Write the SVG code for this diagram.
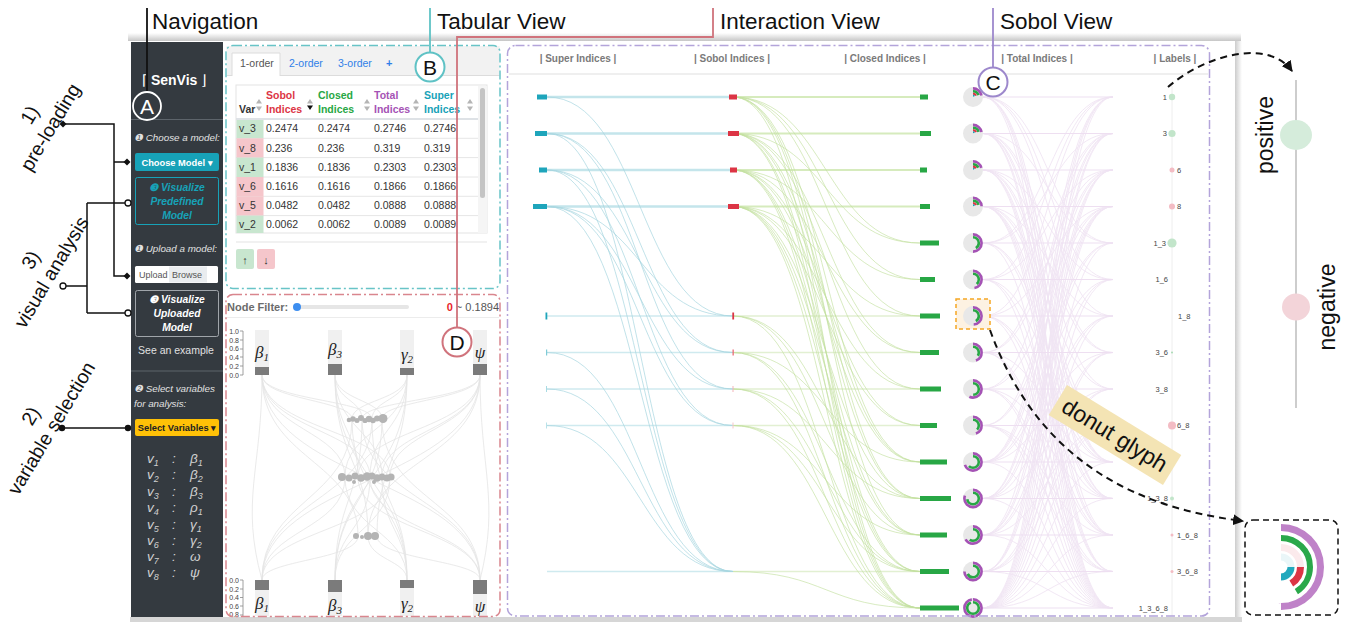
<svg xmlns="http://www.w3.org/2000/svg" xmlns:xlink="http://www.w3.org/1999/xlink" width="1346" height="622" viewBox="0 0 1346 622">
<defs>
<style>
text{font-family:"Liberation Sans",Arial,Helvetica,sans-serif}
.big{font-size:22.5px;fill:#111}
.ann{font-size:19.5px;fill:#111;text-anchor:middle}
.sb{fill:#e2e2e2;font-size:9.8px;font-style:italic}
.btn{font-size:9.3px;font-weight:bold;text-anchor:middle}
.viz{font-size:10.3px;font-weight:bold;font-style:italic;text-anchor:middle}
.var{font-family:"Liberation Serif","Times New Roman",serif;font-style:italic;font-size:13.5px;fill:#d0d0d0}
.th{font-size:10.5px;font-weight:bold}
.td{font-size:10.5px;fill:#333}
.ax{font-size:7px;fill:#444;text-anchor:end}
.gk{font-family:"Liberation Serif","Times New Roman",serif;font-style:italic;font-size:17px;fill:#222;text-anchor:middle}
.hd{font-size:10px;font-weight:bold;fill:#7a7a7a;text-anchor:middle}
.lb{font-size:7.5px;fill:#444}
.cl{font-size:21px;fill:#111;text-anchor:middle}
.box{fill:none;stroke-width:1.5;stroke-dasharray:9 3 2 3}
.conn{fill:none;stroke:#111;stroke-width:1.5}
.dbg{fill:#e8e8e8}
.dp{fill:none;stroke:#a552b5;stroke-width:2.6}
.dg{fill:none;stroke:#28a745;stroke-width:2.6}
.dr{fill:none;stroke:#dc3545;stroke-width:2.2}
.dt{fill:none;stroke:#17a2b8;stroke-width:1.8}
</style>
<marker id="ah" viewBox="0 0 10 10" refX="9" refY="5" markerWidth="11" markerHeight="11" orient="auto" markerUnits="userSpaceOnUse"><path d="M0,0 L10,5 L0,10 z" fill="#111"/></marker>
<linearGradient id="gTop" x1="0" y1="0" x2="0" y2="1"><stop offset="0" stop-color="#fff"/><stop offset="1" stop-color="#c6c6c6"/></linearGradient>
<linearGradient id="gRight" x1="0" y1="0" x2="1" y2="0"><stop offset="0" stop-color="#cccccc"/><stop offset="1" stop-color="#fff"/></linearGradient>
<path id="srt" d="M-3,-1.5 L3,-1.5 L0,-6 Z M-3,1.5 L3,1.5 L0,6 Z" fill="#b5b5b5"/>
<path id="pcA" d="M983,97C1048,97 1048,243 1113,243M983,97C1048,97 1048,279.5 1113,279.5M983,97C1048,97 1048,316 1113,316M983,97C1048,97 1048,462 1113,462M983,97C1048,97 1048,498.5 1113,498.5M983,97C1048,97 1048,535 1113,535M983,97C1048,97 1048,608 1113,608M983,133.5C1048,133.5 1048,243 1113,243M983,133.5C1048,133.5 1048,352.5 1113,352.5M983,133.5C1048,133.5 1048,389 1113,389M983,133.5C1048,133.5 1048,462 1113,462M983,133.5C1048,133.5 1048,498.5 1113,498.5M983,133.5C1048,133.5 1048,571.5 1113,571.5M983,133.5C1048,133.5 1048,608 1113,608M983,170C1048,170 1048,279.5 1113,279.5M983,170C1048,170 1048,352.5 1113,352.5M983,170C1048,170 1048,425.5 1113,425.5M983,170C1048,170 1048,462 1113,462M983,170C1048,170 1048,535 1113,535M983,170C1048,170 1048,571.5 1113,571.5M983,170C1048,170 1048,608 1113,608M983,206.5C1048,206.5 1048,316 1113,316M983,206.5C1048,206.5 1048,389 1113,389M983,206.5C1048,206.5 1048,425.5 1113,425.5M983,206.5C1048,206.5 1048,498.5 1113,498.5M983,206.5C1048,206.5 1048,535 1113,535M983,206.5C1048,206.5 1048,571.5 1113,571.5M983,206.5C1048,206.5 1048,608 1113,608M983,316C1048,316 1048,498.5 1113,498.5M983,316C1048,316 1048,535 1113,535M983,316C1048,316 1048,608 1113,608M983,352.5C1048,352.5 1048,462 1113,462M983,352.5C1048,352.5 1048,571.5 1113,571.5M983,352.5C1048,352.5 1048,608 1113,608M983,389C1048,389 1048,498.5 1113,498.5M983,389C1048,389 1048,571.5 1113,571.5M983,389C1048,389 1048,608 1113,608M983,425.5C1048,425.5 1048,535 1113,535M983,425.5C1048,425.5 1048,571.5 1113,571.5M983,425.5C1048,425.5 1048,608 1113,608M983,571.5C1048,571.5 1048,608 1113,608"/>
<path id="pcB" d="M983,243C1048,243 1048,462 1113,462M983,243C1048,243 1048,498.5 1113,498.5M983,243C1048,243 1048,608 1113,608M983,279.5C1048,279.5 1048,462 1113,462M983,279.5C1048,279.5 1048,535 1113,535M983,279.5C1048,279.5 1048,608 1113,608M983,462C1048,462 1048,608 1113,608M983,498.5C1048,498.5 1048,608 1113,608M983,535C1048,535 1048,608 1113,608"/>
</defs>

<rect width="1346" height="622" fill="#fff"/>

<g id="frame">
<rect x="128" y="33" width="1113" height="8" fill="url(#gTop)"/>
<rect x="130" y="41" width="1105" height="576" fill="#fff"/>
<rect x="1235" y="41" width="7" height="581" fill="url(#gRight)"/>
<rect x="130" y="617" width="1112" height="5" fill="#d6d6d6"/>
</g>

<g id="navigation">
<rect x="131" y="42" width="92" height="575" fill="#343a40"/>
<text x="142" y="85" fill="#fff" font-size="14"><tspan>⌈ </tspan><tspan font-weight="bold">SenVis</tspan><tspan> ⌋</tspan></text>
<line x1="131" y1="119.5" x2="223" y2="119.5" stroke="#5d646b"/>
<text x="134" y="141" class="sb">❶ Choose a model:</text>
<rect x="135" y="153" width="84" height="18" rx="2" fill="#17a2b8"/>
<text x="177" y="165.5" class="btn" fill="#fff">Choose Model ▾</text>
<rect x="135.5" y="177.5" width="83" height="47" rx="2" fill="none" stroke="#17a2b8"/>
<text x="177" y="191" class="viz" fill="#17a2b8">❸ Visualize</text>
<text x="177" y="205" class="viz" fill="#17a2b8">Predefined</text>
<text x="177" y="219" class="viz" fill="#17a2b8">Model</text>
<text x="134" y="252" class="sb">❶ Upload a model:</text>
<rect x="135" y="266" width="83" height="17" rx="1.5" fill="#fff"/>
<rect x="169" y="266.5" width="38" height="16" fill="#e9ecef"/>
<text x="139" y="278" font-size="9" fill="#555">Upload</text>
<text x="172" y="278" font-size="9" fill="#555">Browse</text>
<rect x="135.5" y="290.5" width="83" height="46" rx="2" fill="none" stroke="#a0a5aa"/>
<text x="177" y="303" class="viz" fill="#fff">❸ Visualize</text>
<text x="177" y="317" class="viz" fill="#fff">Uploaded</text>
<text x="177" y="331" class="viz" fill="#fff">Model</text>
<text x="176" y="354" text-anchor="middle" font-size="10.5" fill="#e0e0e0">See an example</text>
<line x1="131" y1="371" x2="223" y2="371" stroke="#5d646b"/>
<text x="134" y="392" class="sb">❷ Select variables</text>
<text x="134" y="407" class="sb">for analysis:</text>
<rect x="135" y="419" width="84" height="17" rx="2" fill="#ffc107"/>
<text x="177" y="431" class="btn" fill="#222">Select Variables ▾</text>
<g class="var">
<text x="147" y="463">v<tspan font-size="9" dy="3">1</tspan></text><text x="172" y="463">:</text><text x="190" y="463">β<tspan font-size="9" dy="3">1</tspan></text>
<text x="147" y="479">v<tspan font-size="9" dy="3">2</tspan></text><text x="172" y="479">:</text><text x="190" y="479">β<tspan font-size="9" dy="3">2</tspan></text>
<text x="147" y="496">v<tspan font-size="9" dy="3">3</tspan></text><text x="172" y="496">:</text><text x="190" y="496">β<tspan font-size="9" dy="3">3</tspan></text>
<text x="147" y="512">v<tspan font-size="9" dy="3">4</tspan></text><text x="172" y="512">:</text><text x="190" y="512">ρ<tspan font-size="9" dy="3">1</tspan></text>
<text x="147" y="529">v<tspan font-size="9" dy="3">5</tspan></text><text x="172" y="529">:</text><text x="190" y="529">γ<tspan font-size="9" dy="3">1</tspan></text>
<text x="147" y="545">v<tspan font-size="9" dy="3">6</tspan></text><text x="172" y="545">:</text><text x="190" y="545">γ<tspan font-size="9" dy="3">2</tspan></text>
<text x="147" y="561">v<tspan font-size="9" dy="3">7</tspan></text><text x="172" y="561">:</text><text x="190" y="561">ω</text>
<text x="147" y="577">v<tspan font-size="9" dy="3">8</tspan></text><text x="172" y="577">:</text><text x="190" y="577">ψ</text>
</g>
</g>

<g id="tabular-view">
<rect x="226.5" y="46" width="273" height="29" fill="#f2f2f2"/>
<line x1="226.5" y1="75.5" x2="499.5" y2="75.5" stroke="#dcdcdc"/>
<path d="M232,76 V53 H280 V76" fill="#fff" stroke="#dcdcdc"/>
<text x="240" y="67" font-size="10.5" fill="#555">1-order</text>
<text x="289" y="67" font-size="10.5" fill="#2f7fe8">2-order</text>
<text x="338" y="67" font-size="10.5" fill="#2f7fe8">3-order</text>
<text x="386" y="67" font-size="11" fill="#2f7fe8" font-weight="bold">+</text>
<rect x="236" y="85" width="251" height="148" fill="#fff" stroke="#e3e3e3"/>
<rect x="478" y="86" width="9" height="147" fill="#f5f5f5"/>
<rect x="480" y="88" width="5" height="110" rx="2.5" fill="#c4c4c4"/>
<line x1="236" y1="119" x2="478" y2="119" stroke="#dee2e6" stroke-width="2"/>
<g stroke="#e6e6e6">
<line x1="236" y1="138.3" x2="478" y2="138.3"/><line x1="236" y1="157.6" x2="478" y2="157.6"/><line x1="236" y1="177" x2="478" y2="177"/><line x1="236" y1="196.3" x2="478" y2="196.3"/><line x1="236" y1="215.6" x2="478" y2="215.6"/>
</g>
<rect x="236.5" y="120" width="27" height="18.3" fill="#c8e6cf"/>
<rect x="236.5" y="138.3" width="27" height="19.3" fill="#f5c6cb"/>
<rect x="236.5" y="157.6" width="27" height="19.4" fill="#c8e6cf"/>
<rect x="236.5" y="177" width="27" height="19.3" fill="#f5c6cb"/>
<rect x="236.5" y="196.3" width="27" height="19.3" fill="#f5c6cb"/>
<rect x="236.5" y="215.6" width="27" height="17.4" fill="#c8e6cf"/>
<text x="239" y="113" class="th" fill="#333">Var</text>
<text x="266" y="99" class="th" fill="#dc3545">Sobol</text><text x="266" y="113" class="th" fill="#dc3545">Indices</text>
<text x="318" y="99" class="th" fill="#28a745">Closed</text><text x="318" y="113" class="th" fill="#28a745">Indices</text>
<text x="374" y="99" class="th" fill="#a553b5">Total</text><text x="374" y="113" class="th" fill="#a553b5">Indices</text>
<text x="424" y="99" class="th" fill="#17a2b8">Super</text><text x="424" y="113" class="th" fill="#17a2b8">Indices</text>
<use href="#srt" x="259" y="105"/>
<path d="M307,103.5 L313,103.5 L310,99 Z" fill="#b5b5b5"/><path d="M307,105.5 L313,105.5 L310,110 Z" fill="#111"/>
<use href="#srt" x="367" y="105"/>
<use href="#srt" x="416" y="105"/>
<use href="#srt" x="470" y="105"/>
<g class="td">
<text x="239" y="132">v_3</text><text x="266" y="132">0.2474</text><text x="318" y="132">0.2474</text><text x="374" y="132">0.2746</text><text x="424" y="132">0.2746</text>
<text x="239" y="151.5">v_8</text><text x="266" y="151.5">0.236</text><text x="318" y="151.5">0.236</text><text x="374" y="151.5">0.319</text><text x="424" y="151.5">0.319</text>
<text x="239" y="170.5">v_1</text><text x="266" y="170.5">0.1836</text><text x="318" y="170.5">0.1836</text><text x="374" y="170.5">0.2303</text><text x="424" y="170.5">0.2303</text>
<text x="239" y="190">v_6</text><text x="266" y="190">0.1616</text><text x="318" y="190">0.1616</text><text x="374" y="190">0.1866</text><text x="424" y="190">0.1866</text>
<text x="239" y="209">v_5</text><text x="266" y="209">0.0482</text><text x="318" y="209">0.0482</text><text x="374" y="209">0.0888</text><text x="424" y="209">0.0888</text>
<text x="239" y="228">v_2</text><text x="266" y="228">0.0062</text><text x="318" y="228">0.0062</text><text x="374" y="228">0.0089</text><text x="424" y="228">0.0089</text>
</g>
<line x1="236" y1="242" x2="487" y2="242" stroke="#e3e3e3"/>
<rect x="236" y="249" width="18" height="20" rx="2" fill="#c8e6cf"/>
<rect x="257" y="249" width="18" height="20" rx="2" fill="#f5c6cb"/>
<text x="245" y="263.5" text-anchor="middle" font-size="11" fill="#333">↑</text>
<text x="266" y="263.5" text-anchor="middle" font-size="11" fill="#333">↓</text>
<rect x="226" y="45.5" width="274" height="243" rx="7" class="box" stroke="#68c4c7"/>
</g>

<g id="interaction-view">
<text x="227" y="311" font-size="11" font-weight="bold" fill="#6b6b6b">Node Filter:</text>
<rect x="294" y="305" width="115" height="4" rx="2" fill="#e6e6e6"/>
<circle cx="297" cy="307" r="4" fill="#3d8ef0"/>
<text x="499" y="311" text-anchor="end" font-size="11" fill="#555"><tspan fill="#e8262b" font-weight="bold">0</tspan> ~ 0.1894</text>
<line x1="227" y1="317.5" x2="499" y2="317.5" stroke="#ececec"/>
<g id="ilinks" fill="none" stroke="#dadada" stroke-width="0.8" opacity="0.7">
<path d="M262,375C262,400 352,400 352,419M262,375C262,400 372,400 372,419M335,375C335,400 362,400 362,419M335,375C335,400 382,400 382,419M407,375C407,400 352,400 352,419M407,375C407,400 372,400 372,419M480,375C480,400 362,400 362,419M480,375C480,400 382,400 382,419"/>
<path d="M352,419C352,500 262,500 262,580M362,419C362,500 335,500 335,580M372,419C372,500 407,500 407,580M382,419C382,500 480,500 480,580M352,419C352,500 407,500 407,580M372,419C372,500 262,500 262,580M362,419C362,500 480,500 480,580M382,419C382,500 335,500 335,580"/>
<path d="M262,375C262,430 345,430 345,477M262,375C262,430 370,430 370,477M262,375C262,430 390,430 390,477M335,375C335,430 358,430 358,477M335,375C335,430 382,430 382,477M407,375C407,430 345,430 345,477M407,375C407,430 370,430 370,477M480,375C480,430 358,430 358,477M480,375C480,430 390,430 390,477M480,375C480,430 382,430 382,477"/>
<path d="M345,477C345,530 262,530 262,580M358,477C358,530 480,530 480,580M370,477C370,530 335,530 335,580M382,477C382,530 407,530 407,580M390,477C390,530 262,530 262,580M345,477C345,530 407,530 407,580M370,477C370,530 480,530 480,580M390,477C390,530 335,530 335,580"/>
<path d="M262,375C262,460 358,460 358,536M335,375C335,460 368,460 368,536M407,375C407,460 377,460 377,536M480,375C480,460 368,460 368,536M358,536C358,560 262,560 262,580M368,536C368,560 407,560 407,580M377,536C377,560 480,560 480,580"/>
<path d="M262,375C262,480 480,480 480,580M480,375C480,480 262,480 262,580M335,375C335,480 407,480 407,580M407,375C407,480 335,480 335,580M262,375C262,470 240,500 262,580M480,375C480,470 500,500 480,580"/>
</g>
<g id="axes">
<line x1="243" y1="331" x2="243" y2="375" stroke="#888" stroke-width="0.8"/>
<g stroke="#888" stroke-width="0.8"><line x1="240" y1="331" x2="243" y2="331"/><line x1="240" y1="340" x2="243" y2="340"/><line x1="240" y1="349" x2="243" y2="349"/><line x1="240" y1="357" x2="243" y2="357"/><line x1="240" y1="366" x2="243" y2="366"/><line x1="240" y1="375" x2="243" y2="375"/></g>
<text x="239" y="333.5" class="ax">1.0</text><text x="239" y="342.5" class="ax">0.8</text><text x="239" y="351" class="ax">0.6</text><text x="239" y="359.5" class="ax">0.4</text><text x="239" y="368.5" class="ax">0.2</text><text x="239" y="377.5" class="ax">0.0</text>
<line x1="243" y1="580" x2="243" y2="616" stroke="#888" stroke-width="0.8"/>
<g stroke="#888" stroke-width="0.8"><line x1="240" y1="580" x2="243" y2="580"/><line x1="240" y1="589" x2="243" y2="589"/><line x1="240" y1="597.5" x2="243" y2="597.5"/><line x1="240" y1="606" x2="243" y2="606"/><line x1="240" y1="615" x2="243" y2="615"/></g>
<text x="239" y="582.5" class="ax">0.0</text><text x="239" y="591.5" class="ax">0.2</text><text x="239" y="600" class="ax">0.4</text><text x="239" y="608.5" class="ax">0.6</text><text x="239" y="617" class="ax">0.8</text>
</g>
<g id="ibars">
<rect x="255" y="330" width="14" height="45" fill="#f0f0f0"/><rect x="255" y="367" width="14" height="8" fill="#7b7b7b"/>
<rect x="328" y="330" width="14" height="45" fill="#f0f0f0"/><rect x="328" y="364" width="14" height="11" fill="#7b7b7b"/>
<rect x="400" y="330" width="14" height="45" fill="#f0f0f0"/><rect x="400" y="368" width="14" height="7" fill="#7b7b7b"/>
<rect x="473" y="330" width="14" height="45" fill="#f0f0f0"/><rect x="473" y="364" width="14" height="11" fill="#7b7b7b"/>
<rect x="255" y="580" width="14" height="36" fill="#f0f0f0"/><rect x="255" y="580" width="14" height="10" fill="#7b7b7b"/>
<rect x="328" y="580" width="14" height="36" fill="#f0f0f0"/><rect x="328" y="580" width="14" height="12" fill="#7b7b7b"/>
<rect x="400" y="580" width="14" height="36" fill="#f0f0f0"/><rect x="400" y="580" width="14" height="8" fill="#7b7b7b"/>
<rect x="473" y="580" width="14" height="36" fill="#f0f0f0"/><rect x="473" y="580" width="14" height="14" fill="#7b7b7b"/>
<text x="262" y="358" class="gk">β<tspan font-size="11" dy="3">1</tspan></text>
<text x="335" y="355" class="gk">β<tspan font-size="11" dy="3">3</tspan></text>
<text x="407" y="360" class="gk">γ<tspan font-size="11" dy="3">2</tspan></text>
<text x="480" y="358" class="gk">ψ</text>
<text x="262" y="609" class="gk">β<tspan font-size="11" dy="3">1</tspan></text>
<text x="335" y="611" class="gk">β<tspan font-size="11" dy="3">3</tspan></text>
<text x="407" y="609" class="gk">γ<tspan font-size="11" dy="3">2</tspan></text>
<text x="480" y="612" class="gk">ψ</text>
</g>
<g id="inodes" fill="#b4b4b4">
<circle cx="349" cy="420" r="2.3"/><circle cx="353" cy="419" r="2.8"/><circle cx="357" cy="420.5" r="2.5"/><circle cx="361" cy="418" r="3"/><circle cx="365" cy="420.5" r="2.6"/><circle cx="369" cy="419" r="3.2"/><circle cx="373" cy="420.5" r="2.8"/><circle cx="377" cy="418.5" r="3"/><circle cx="383" cy="418.5" r="4.5"/>
<circle cx="342" cy="477" r="4"/><circle cx="349" cy="478" r="3.5"/><circle cx="355" cy="476" r="3.5"/><circle cx="361" cy="478" r="3.8"/><circle cx="367" cy="476.5" r="4.2"/><circle cx="372" cy="476" r="3.5"/><circle cx="377" cy="478" r="3.8"/><circle cx="382" cy="477" r="3.5"/><circle cx="387" cy="478" r="3.6"/><circle cx="391" cy="477" r="3.6"/><circle cx="354" cy="482" r="2"/><circle cx="374" cy="482" r="2"/>
<circle cx="356" cy="536" r="3"/><circle cx="362" cy="537" r="2"/><circle cx="368" cy="536" r="4"/><circle cx="375" cy="536" r="4"/>
</g>
<rect x="226" y="294.5" width="274" height="322" rx="7" class="box" stroke="#d9868e"/>
</g>

<g id="sobol-view">
<line x1="509" y1="74" x2="1208" y2="74" stroke="#efefef" stroke-width="2"/>
<text x="578" y="62" class="hd">| Super Indices |</text>
<text x="732" y="62" class="hd">| Sobol Indices |</text>
<text x="885" y="62" class="hd">| Closed Indices |</text>
<text x="1037" y="62" class="hd">| Total Indices |</text>
<text x="1175" y="62" class="hd">| Labels |</text>

<g id="connectors">
<g fill="none" stroke="#c4e5eb" stroke-width="2.5">
<path d="M547,97H729M547,133.5H728M547,170H730M547,206.5H728"/>
</g>
<g fill="none" stroke="#cfeaef" stroke-width="1.5">
<path d="M547,316H733M547,352.5H733M547,389H733M547,425.5H733M547,571.5H733"/>
</g>
<path fill="none" stroke="#a6d6df" stroke-width="1" opacity="0.7" d="M547,97C640,97 640,316 733,316M547,133.5C640,133.5 640,352.5 733,352.5M547,133.5C640,133.5 640,389 733,389M547,133.5C640,133.5 640,571.5 733,571.5M547,170C640,170 640,352.5 733,352.5M547,170C640,170 640,425.5 733,425.5M547,170C640,170 640,571.5 733,571.5M547,206.5C640,206.5 640,316 733,316M547,206.5C640,206.5 640,389 733,389M547,206.5C640,206.5 640,425.5 733,425.5M547,206.5C640,206.5 640,571.5 733,571.5M547,352.5C640,352.5 640,571.5 733,571.5M547,389C640,389 640,571.5 733,571.5M547,425.5C640,425.5 640,571.5 733,571.5"/>
<g fill="none" stroke="#d6ebbd" stroke-width="2">
<path d="M737,97H920M739,133.5H920M737,170H920M739,206.5H920"/>
</g>
<g fill="none" stroke="#e2f0d2" stroke-width="1.3">
<path d="M733,316H920M733,352.5H920M733,389H920M733,425.5H920M733,571.5H920"/>
</g>
<path fill="none" stroke="#c3e0a0" stroke-width="1" opacity="0.65" d="M733,97C826,97 826,243 920,243M733,97C826,97 826,279.5 920,279.5M733,97C826,97 826,316 920,316M733,97C826,97 826,462 920,462M733,97C826,97 826,498.5 920,498.5M733,97C826,97 826,535 920,535M733,97C826,97 826,608 920,608M733,133.5C826,133.5 826,243 920,243M733,133.5C826,133.5 826,352.5 920,352.5M733,133.5C826,133.5 826,389 920,389M733,133.5C826,133.5 826,462 920,462M733,133.5C826,133.5 826,498.5 920,498.5M733,133.5C826,133.5 826,571.5 920,571.5M733,133.5C826,133.5 826,608 920,608M733,170C826,170 826,279.5 920,279.5M733,170C826,170 826,352.5 920,352.5M733,170C826,170 826,425.5 920,425.5M733,170C826,170 826,462 920,462M733,170C826,170 826,535 920,535M733,170C826,170 826,571.5 920,571.5M733,170C826,170 826,608 920,608M733,206.5C826,206.5 826,316 920,316M733,206.5C826,206.5 826,389 920,389M733,206.5C826,206.5 826,425.5 920,425.5M733,206.5C826,206.5 826,498.5 920,498.5M733,206.5C826,206.5 826,535 920,535M733,206.5C826,206.5 826,571.5 920,571.5M733,206.5C826,206.5 826,608 920,608M733,316C826,316 826,498.5 920,498.5M733,316C826,316 826,535 920,535M733,316C826,316 826,608 920,608M733,352.5C826,352.5 826,462 920,462M733,352.5C826,352.5 826,571.5 920,571.5M733,352.5C826,352.5 826,608 920,608M733,389C826,389 826,498.5 920,498.5M733,389C826,389 826,571.5 920,571.5M733,389C826,389 826,608 920,608M733,425.5C826,425.5 826,535 920,535M733,425.5C826,425.5 826,571.5 920,571.5M733,425.5C826,425.5 826,608 920,608M733,571.5C826,571.5 826,608 920,608"/>
<g fill="none" stroke="#e0c6e6" stroke-width="0.9" opacity="0.45">
<use href="#pcA"/><use href="#pcB"/>
<use href="#pcA" transform="translate(2096,0) scale(-1,1)"/><use href="#pcB" transform="translate(2096,0) scale(-1,1)"/>
</g>
<path fill="none" stroke="#eedff1" stroke-width="1.2" d="M983,97H1113M983,133.5H1113M983,170H1113M983,206.5H1113M983,243H1113M983,279.5H1113M983,316H1113M983,352.5H1113M983,389H1113M983,425.5H1113M983,462H1113M983,498.5H1113M983,535H1113M983,571.5H1113M983,608H1113"/>
</g>

<g id="super-bars" fill="#1ea5bb">
<rect x="537" y="94.5" width="10" height="5"/><rect x="535" y="131" width="12" height="5"/><rect x="539" y="167.5" width="8" height="5"/><rect x="533" y="204" width="14" height="5"/>
<rect x="545.5" y="312.5" width="1.8" height="7"/>
<rect x="546" y="349.5" width="1.2" height="6" fill="#7fcbd7"/><rect x="546" y="386" width="1" height="6" fill="#a9dbe3"/><rect x="546" y="422.5" width="1" height="6" fill="#b9e2e9"/>
</g>
<g id="sobol-bars" fill="#dc3545">
<rect x="729" y="94.5" width="8" height="5"/><rect x="728" y="131" width="11" height="5"/><rect x="730" y="167.5" width="7" height="5"/><rect x="728" y="204" width="11" height="5"/>
<rect x="732.3" y="312.5" width="1.8" height="7"/>
<rect x="732.5" y="349.5" width="1.3" height="6" fill="#ea6b77"/><rect x="732.5" y="386" width="1" height="6" fill="#f3b3ba"/><rect x="732.5" y="422.5" width="1" height="6" fill="#f6c5ca"/>
</g>
<g id="closed-bars" fill="#28a745">
<rect x="920" y="94.5" width="8" height="5"/><rect x="920" y="131" width="11" height="5"/><rect x="920" y="167.5" width="7" height="5"/><rect x="920" y="204" width="10" height="5"/>
<rect x="920" y="240.5" width="19" height="5"/><rect x="920" y="277" width="15" height="5"/><rect x="920" y="313.5" width="20" height="5"/><rect x="920" y="350" width="19" height="5"/>
<rect x="920" y="386.5" width="21" height="5"/><rect x="920" y="423" width="17" height="5"/><rect x="920" y="459.5" width="27" height="5"/><rect x="920" y="496" width="31" height="5"/>
<rect x="920" y="532.5" width="27" height="5"/><rect x="920" y="569" width="29" height="5"/><rect x="920" y="605.5" width="39" height="5"/>
</g>

<rect x="956" y="299" width="34" height="30" fill="#fdf2e2" stroke="#f5a623" stroke-width="1.5" stroke-dasharray="4 3"/>

<g id="donuts">
<g transform="translate(973,97)"><circle r="10" class="dbg"/><circle r="8.6" class="dp" pathLength="360" stroke-dasharray="80 360" transform="rotate(-90)"/><circle r="5.8" class="dg" pathLength="360" stroke-dasharray="70 360" transform="rotate(-90)"/><circle r="3.3" class="dr" pathLength="360" stroke-dasharray="65 360" transform="rotate(-90)"/><circle r="1.3" class="dt" pathLength="360" stroke-dasharray="60 360" transform="rotate(-90)"/></g>
<g transform="translate(973,133.5)"><circle r="10" class="dbg"/><circle r="8.6" class="dp" pathLength="360" stroke-dasharray="80 360" transform="rotate(-90)"/><circle r="5.8" class="dg" pathLength="360" stroke-dasharray="72 360" transform="rotate(-90)"/><circle r="3.3" class="dr" pathLength="360" stroke-dasharray="65 360" transform="rotate(-90)"/><circle r="1.3" class="dt" pathLength="360" stroke-dasharray="60 360" transform="rotate(-90)"/></g>
<g transform="translate(973,170)"><circle r="10" class="dbg"/><circle r="8.6" class="dp" pathLength="360" stroke-dasharray="75 360" transform="rotate(-90)"/><circle r="5.8" class="dg" pathLength="360" stroke-dasharray="65 360" transform="rotate(-90)"/><circle r="3.3" class="dr" pathLength="360" stroke-dasharray="60 360" transform="rotate(-90)"/><circle r="1.3" class="dt" pathLength="360" stroke-dasharray="55 360" transform="rotate(-90)"/></g>
<g transform="translate(973,206.5)"><circle r="10" class="dbg"/><circle r="8.6" class="dp" pathLength="360" stroke-dasharray="88 360" transform="rotate(-90)"/><circle r="5.8" class="dg" pathLength="360" stroke-dasharray="72 360" transform="rotate(-90)"/><circle r="3.3" class="dr" pathLength="360" stroke-dasharray="65 360" transform="rotate(-90)"/><circle r="1.3" class="dt" pathLength="360" stroke-dasharray="60 360" transform="rotate(-90)"/></g>
<g transform="translate(973,243)"><circle r="10" class="dbg"/><circle r="8.6" class="dp" pathLength="360" stroke-dasharray="180 360" transform="rotate(-90)"/><circle r="5.8" class="dg" pathLength="360" stroke-dasharray="150 360" transform="rotate(-90)"/></g>
<g transform="translate(973,279.5)"><circle r="10" class="dbg"/><circle r="8.6" class="dp" pathLength="360" stroke-dasharray="170 360" transform="rotate(-90)"/><circle r="5.8" class="dg" pathLength="360" stroke-dasharray="140 360" transform="rotate(-90)"/></g>
<g transform="translate(973,316)"><circle r="10" class="dbg"/><circle r="8.6" class="dp" pathLength="360" stroke-dasharray="175 360" transform="rotate(-90)"/><circle r="5.8" class="dg" pathLength="360" stroke-dasharray="150 360" transform="rotate(-90)"/></g>
<g transform="translate(973,352.5)"><circle r="10" class="dbg"/><circle r="8.6" class="dp" pathLength="360" stroke-dasharray="160 360" transform="rotate(-90)"/><circle r="5.8" class="dg" pathLength="360" stroke-dasharray="125 360" transform="rotate(-90)"/></g>
<g transform="translate(973,389)"><circle r="10" class="dbg"/><circle r="8.6" class="dp" pathLength="360" stroke-dasharray="205 360" transform="rotate(-90)"/><circle r="5.8" class="dg" pathLength="360" stroke-dasharray="178 360" transform="rotate(-90)"/></g>
<g transform="translate(973,425.5)"><circle r="10" class="dbg"/><circle r="8.6" class="dp" pathLength="360" stroke-dasharray="160 360" transform="rotate(-90)"/><circle r="5.8" class="dg" pathLength="360" stroke-dasharray="135 360" transform="rotate(-90)"/></g>
<g transform="translate(973,462)"><circle r="10" class="dbg"/><circle r="8.6" class="dp" pathLength="360" stroke-dasharray="250 360" transform="rotate(-90)"/><circle r="5.8" class="dg" pathLength="360" stroke-dasharray="225 360" transform="rotate(-90)"/></g>
<g transform="translate(973,498.5)"><circle r="10" class="dbg"/><circle r="8.6" class="dp" pathLength="360" stroke-dasharray="290 360" transform="rotate(-90)"/><circle r="5.8" class="dg" pathLength="360" stroke-dasharray="262 360" transform="rotate(-90)"/></g>
<g transform="translate(973,535)"><circle r="10" class="dbg"/><circle r="8.6" class="dp" pathLength="360" stroke-dasharray="240 360" transform="rotate(-90)"/><circle r="5.8" class="dg" pathLength="360" stroke-dasharray="215 360" transform="rotate(-90)"/></g>
<g transform="translate(973,571.5)"><circle r="10" class="dbg"/><circle r="8.6" class="dp" pathLength="360" stroke-dasharray="270 360" transform="rotate(-90)"/><circle r="5.8" class="dg" pathLength="360" stroke-dasharray="245 360" transform="rotate(-90)"/></g>
<g transform="translate(973,608)"><circle r="10" class="dbg"/><circle r="8.6" class="dp" pathLength="360" stroke-dasharray="352 360" transform="rotate(-90)"/><circle r="5.8" class="dg" pathLength="360" stroke-dasharray="338 360" transform="rotate(-90)"/></g>
</g>

<g id="labels">
<line x1="1172" y1="86" x2="1172" y2="616" stroke="#eeeeee"/>
<circle cx="1172" cy="97" r="3.2" fill="#c2e5ca"/>
<circle cx="1172" cy="133.5" r="3.6" fill="#c2e5ca"/>
<circle cx="1172" cy="170" r="2.5" fill="#f3bcc4"/>
<circle cx="1172" cy="206.5" r="3" fill="#f3bcc4"/>
<circle cx="1172" cy="243" r="4.6" fill="#c2e5ca"/>
<circle cx="1172" cy="352.5" r="1" fill="#a8dab4"/>
<circle cx="1172" cy="425.5" r="4" fill="#f3bcc4"/>
<circle cx="1172" cy="462" r="2" fill="#a8dab4"/>
<circle cx="1172" cy="498.5" r="2" fill="#c2e5ca"/>
<circle cx="1172" cy="535" r="1.5" fill="#f3bcc4"/>
<circle cx="1172" cy="571.5" r="1.5" fill="#f3bcc4"/>
<g class="lb">
<text x="1167" y="99.5" text-anchor="end">1</text>
<text x="1167" y="136" text-anchor="end">3</text>
<text x="1177" y="172.5">6</text>
<text x="1177" y="209">8</text>
<text x="1166" y="245.5" text-anchor="end">1_3</text>
<text x="1168" y="282" text-anchor="end">1_6</text>
<text x="1178" y="318.5">1_8</text>
<text x="1168" y="355" text-anchor="end">3_6</text>
<text x="1168" y="391.5" text-anchor="end">3_8</text>
<text x="1177" y="428">6_8</text>
<text x="1168" y="501" text-anchor="end">1_3_8</text>
<text x="1177" y="537.5">1_6_8</text>
<text x="1177" y="574">3_6_8</text>
<text x="1168" y="610.5" text-anchor="end">1_3_6_8</text>
</g>
</g>
<rect x="507.5" y="45.5" width="702" height="570.5" rx="8" class="box" stroke="#b3a4da"/>
</g>

<g id="legend-sign">
<line x1="1296" y1="80" x2="1296" y2="408" stroke="#bdbdbd" stroke-width="1.5"/>
<ellipse cx="1296" cy="135" rx="16" ry="15" fill="#d5ecdb"/>
<ellipse cx="1296" cy="307" rx="14" ry="13.5" fill="#f3d4d9"/>
<text transform="translate(1273,135) rotate(-90)" text-anchor="middle" font-size="23" fill="#111">positive</text>
<text transform="translate(1335,307) rotate(-90)" text-anchor="middle" font-size="23" fill="#111">negative</text>
</g>
<g id="legend-donut">
<rect x="1245" y="520" width="93" height="95" rx="8" fill="none" stroke="#111" stroke-width="1.5" stroke-dasharray="6 4"/>
<g transform="translate(1281,567)">
<circle r="39.5" fill="none" stroke="#bf82c8" stroke-width="7" pathLength="360" stroke-dasharray="180 360" transform="rotate(-90)"/>
<circle r="29" fill="none" stroke="#2aa84a" stroke-width="6" pathLength="360" stroke-dasharray="148 360" transform="rotate(-90)"/>
<circle r="19.5" fill="none" stroke="#fbeaec" stroke-width="7" pathLength="360" stroke-dasharray="90 360" transform="rotate(-90)"/>
<circle r="19.5" fill="none" stroke="#dc3545" stroke-width="7" pathLength="360" stroke-dasharray="0 90 58 360" transform="rotate(-90)"/>
<circle r="10" fill="none" stroke="#eaf6f8" stroke-width="7" pathLength="360" stroke-dasharray="90 360" transform="rotate(-90)"/>
<circle r="10" fill="none" stroke="#21a8bd" stroke-width="7" pathLength="360" stroke-dasharray="0 90 90 360" transform="rotate(-90)"/>
</g>
</g>

<g id="annotation-connectors">
<path class="conn" d="M63,124H114V276H126M114,162H126"/>
<path class="conn" d="M66,286H87M87,203V313M87,203H125M87,313H125"/>
<path class="conn" d="M62,428H128"/>
<polygon points="63,120.5 66.5,124 63,127.5 59.5,124" fill="#111"/>
<polygon points="127,158.5 130.5,162 127,165.5 123.5,162" fill="#111"/>
<polygon points="127,272.5 130.5,276 127,279.5 123.5,276" fill="#111"/>
<circle cx="63" cy="286" r="3" fill="#fff" stroke="#111" stroke-width="1.3"/>
<circle cx="128" cy="203" r="3" fill="#fff" stroke="#111" stroke-width="1.3"/>
<circle cx="128" cy="313" r="3" fill="#fff" stroke="#111" stroke-width="1.3"/>
<circle cx="62" cy="428" r="3.2" fill="#111"/>
<circle cx="128" cy="428" r="3.2" fill="#111"/>
<line x1="147" y1="8" x2="147" y2="92" stroke="#111" stroke-width="1.8"/>
<line x1="430" y1="8" x2="430" y2="52.5" stroke="#5fc2c5" stroke-width="1.8"/>
<path d="M713,8V37H457V327.5" fill="none" stroke="#d0737c" stroke-width="1.8"/>
<line x1="993" y1="8" x2="993" y2="67.5" stroke="#9d88cc" stroke-width="1.8"/>
<path d="M990,330 C1030,440 1110,505 1243,521" fill="none" stroke="#111" stroke-width="2" stroke-dasharray="7 5" marker-end="url(#ah)"/>
<path d="M1168,87 C1205,55 1268,38 1292,71" fill="none" stroke="#111" stroke-width="2" stroke-dasharray="7 5" marker-end="url(#ah)"/>
</g>

<g id="annotations">
<text x="152" y="29" class="big">Navigation</text>
<text x="437" y="29" class="big">Tabular View</text>
<text x="720" y="29" class="big">Interaction View</text>
<text x="1000" y="29" class="big">Sobol View</text>
<g transform="translate(50,127) rotate(-59)"><text class="ann" y="-17">1)</text><text class="ann" y="7">pre-loading</text></g>
<g transform="translate(51,272) rotate(-59)"><text class="ann" y="-17">3)</text><text class="ann" y="7">visual analysis</text></g>
<g transform="translate(51,428) rotate(-59)"><text class="ann" y="-17">2)</text><text class="ann" y="7">variable selection</text></g>
<g id="marker-A"><circle cx="147" cy="106" r="14" fill="#343a40" stroke="#fff" stroke-width="1.8"/><text x="147" y="113.5" class="cl" style="fill:#fff">A</text></g>
<g id="marker-B"><circle cx="430" cy="67" r="14.5" fill="#fff" stroke="#5fc2c5" stroke-width="2"/><text x="430" y="74.5" class="cl">B</text></g>
<g id="marker-C"><circle cx="993" cy="82" r="14.5" fill="#fff" stroke="#9d88cc" stroke-width="2"/><text x="993" y="89.5" class="cl">C</text></g>
<g id="marker-D"><circle cx="457" cy="342" r="14.5" fill="#fff" stroke="#d0737c" stroke-width="2"/><text x="457" y="349.5" class="cl">D</text></g>
<g id="donut-tag" transform="translate(1115,435) rotate(31.5)"><rect x="-67" y="-17.5" width="134" height="35" fill="#f4e4b4"/><text x="0" y="8" text-anchor="middle" font-size="23" fill="#111">donut glyph</text></g>
</g>
</svg>
